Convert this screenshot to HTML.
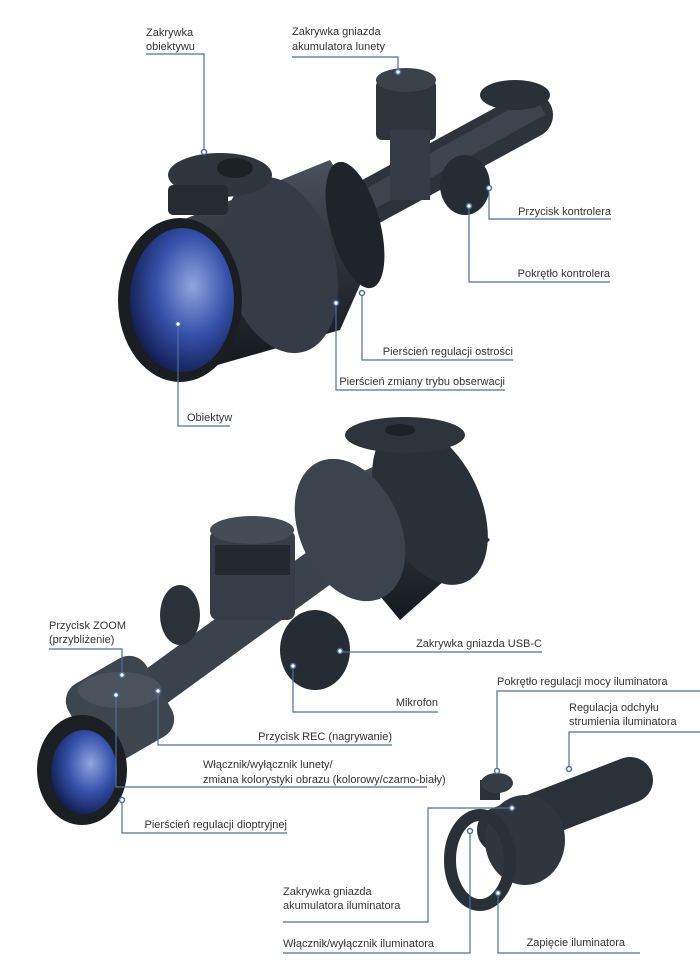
<!DOCTYPE html>
<html><head><meta charset="utf-8"><style>
html,body{margin:0;padding:0;background:#fff;}
svg{display:block}
text{font-family:"Liberation Sans Narrow","Liberation Sans",sans-serif;font-size:11px;fill:#333;}
.l{fill:none;stroke:#4d6f9c;stroke-width:1.2}
.d{fill:#fff;stroke:#4d6f9c;stroke-width:1.5}
</style></head><body>
<svg width="700" height="971" viewBox="0 0 700 971">
<defs>
<linearGradient id="g1" x1="0" y1="0" x2="0" y2="1"><stop offset="0" stop-color="#4a525c"/><stop offset="0.5" stop-color="#2b3138"/><stop offset="1" stop-color="#15191e"/></linearGradient>
<radialGradient id="lens" cx="0.6" cy="0.4" r="0.7"><stop offset="0" stop-color="#8fa6e0"/><stop offset="0.5" stop-color="#3450a8"/><stop offset="1" stop-color="#0c1440"/></radialGradient>
</defs>
<!-- TOP SCOPE -->
<line x1="300" y1="240" x2="530" y2="115" stroke="#2c333b" stroke-width="46" stroke-linecap="round"/>
<line x1="350" y1="210" x2="540" y2="105" stroke="#3c444e" stroke-width="22"/>
<ellipse cx="515" cy="95" rx="35" ry="15" fill="#2a3038"/>
<rect x="376" y="80" width="60" height="60" rx="6" fill="#2d343c"/>
<ellipse cx="406" cy="80" rx="30" ry="12" fill="#3a424b"/>
<rect x="390" y="130" width="40" height="70" fill="#353c45"/>
<ellipse cx="465" cy="185" rx="25" ry="30" fill="#262c33"/>
<polygon points="170,225 330,160 380,240 340,330 200,370" fill="url(#g1)"/>
<ellipse cx="355" cy="225" rx="25" ry="65" fill="#1f242a" transform="rotate(-15 355 225)"/>
<ellipse cx="280" cy="265" rx="55" ry="90" fill="#353c45" transform="rotate(-15 280 265)"/>
<ellipse cx="180" cy="300" rx="62" ry="82" fill="#1a1e23"/>
<ellipse cx="182" cy="300" rx="52" ry="72" fill="url(#lens)"/>
<ellipse cx="220" cy="175" rx="52" ry="22" fill="#2f363e"/>
<ellipse cx="235" cy="168" rx="18" ry="10" fill="#1c2126"/>
<rect x="168" y="185" width="60" height="30" rx="5" fill="#262b31"/>
<!-- MIDDLE SCOPE -->
<line x1="330" y1="560" x2="110" y2="720" stroke="#3a424b" stroke-width="40" stroke-linecap="round"/>
<polygon points="300,500 410,450 490,540 400,620" fill="url(#g1)"/>
<ellipse cx="430" cy="505" rx="50" ry="85" fill="#2a3038" transform="rotate(-25 430 505)"/>
<ellipse cx="350" cy="530" rx="50" ry="75" fill="#3b434c" transform="rotate(-25 350 530)"/>
<ellipse cx="405" cy="435" rx="60" ry="18" fill="#2d343c"/>
<ellipse cx="400" cy="430" rx="15" ry="6" fill="#1c2126"/>
<rect x="210" y="530" width="85" height="90" rx="8" fill="#363d46"/>
<ellipse cx="252" cy="530" rx="42" ry="14" fill="#444c56"/>
<rect x="215" y="545" width="75" height="30" fill="#23292f"/>
<ellipse cx="180" cy="615" rx="20" ry="30" fill="#2b3138"/>
<ellipse cx="315" cy="650" rx="35" ry="40" fill="#262c33"/>
<rect x="75" y="665" width="90" height="90" rx="20" fill="#3d454f" transform="rotate(-30 120 710)"/>
<ellipse cx="120" cy="690" rx="42" ry="18" fill="#4a525c"/>
<ellipse cx="82" cy="770" rx="45" ry="55" fill="#1b1f24"/>
<ellipse cx="84" cy="772" rx="33" ry="42" fill="url(#lens)"/>
<!-- ILLUMINATOR -->
<line x1="500" y1="830" x2="630" y2="780" stroke="#2b3138" stroke-width="46" stroke-linecap="round"/>
<rect x="480" y="780" width="20" height="20" fill="#2b3138"/>
<ellipse cx="497" cy="783" rx="16" ry="10" fill="#353c45"/>
<ellipse cx="525" cy="840" rx="40" ry="45" fill="#2f363e"/>
<ellipse cx="480" cy="860" rx="30" ry="45" fill="none" stroke="#2a3038" stroke-width="12"/>
<!-- CALLOUTS -->
<text x="146" y="36">Zakrywka</text><text x="146" y="50">obiektywu</text>
<path class="l" d="M146 54H204V152"/><circle class="d" cx="204" cy="152" r="2.5"/>
<text x="292" y="35">Zakrywka gniazda</text><text x="292" y="50">akumulatora lunety</text>
<path class="l" d="M292 57H398V72"/><circle class="d" cx="398" cy="72" r="2.5"/>
<text x="611" y="215" text-anchor="end">Przycisk kontrolera</text>
<path class="l" d="M611 219H489V188"/><circle class="d" cx="489" cy="188" r="2.5"/>
<text x="610" y="277" text-anchor="end">Pokrętło kontrolera</text>
<path class="l" d="M610 282H469V206"/><circle class="d" cx="469" cy="206" r="2.5"/>
<text x="513" y="355" text-anchor="end">Pierścień regulacji ostrości</text>
<path class="l" d="M513 360H362V293"/><circle class="d" cx="362" cy="293" r="2.5"/>
<text x="505" y="385" text-anchor="end">Pierścień zmiany trybu obserwacji</text>
<path class="l" d="M505 390H336V303"/><circle class="d" cx="336" cy="303" r="2.5"/>
<text x="187" y="421">Obiektyw</text>
<path class="l" d="M230 426H178V324"/><circle class="d" cx="178" cy="324" r="2.5"/>
<text x="49" y="629">Przycisk ZOOM</text><text x="49" y="643">(przybliżenie)</text>
<path class="l" d="M49 649H122V675"/><circle class="d" cx="122" cy="675" r="2.5"/>
<text x="542" y="647" text-anchor="end">Zakrywka gniazda USB-C</text>
<path class="l" d="M542 652H342"/><circle class="d" cx="340" cy="651" r="2.5"/>
<text x="438" y="706" text-anchor="end">Mikrofon</text>
<path class="l" d="M438 712H293V666"/><circle class="d" cx="293" cy="666" r="2.5"/>
<text x="392" y="740" text-anchor="end">Przycisk REC (nagrywanie)</text>
<path class="l" d="M392 745H158V691"/><circle class="d" cx="158" cy="691" r="2.5"/>
<text x="203" y="768">Włącznik/wyłącznik lunety/</text><text x="203" y="783">zmiana kolorystyki obrazu (kolorowy/czarno-biały)</text>
<path class="l" d="M427 787H116V695"/><circle class="d" cx="116" cy="695" r="2.5"/>
<text x="287" y="828" text-anchor="end">Pierścień regulacji dioptryjnej</text>
<path class="l" d="M287 833H122V800"/><circle class="d" cx="122" cy="800" r="2.5"/>
<text x="497" y="685">Pokrętło regulacji mocy iluminatora</text>
<path class="l" d="M700 691H497V771"/><circle class="d" cx="497" cy="771" r="2.5"/>
<text x="569" y="711">Regulacja odchyłu</text><text x="569" y="725">strumienia iluminatora</text>
<path class="l" d="M700 732H569V769"/><circle class="d" cx="569" cy="769" r="2.5"/>
<text x="283" y="895">Zakrywka gniazda</text><text x="283" y="909">akumulatora iluminatora</text>
<path class="l" d="M283 922H428V808H512"/><circle class="d" cx="512" cy="808" r="2.5"/>
<text x="283" y="947">Włącznik/wyłącznik iluminatora</text>
<path class="l" d="M283 953H470V831"/><circle class="d" cx="470" cy="831" r="2.5"/>
<text x="625" y="946" text-anchor="end">Zapięcie iluminatora</text>
<path class="l" d="M640 953H498V893"/><circle class="d" cx="498" cy="893" r="2.5"/>
</svg>
</body></html>
